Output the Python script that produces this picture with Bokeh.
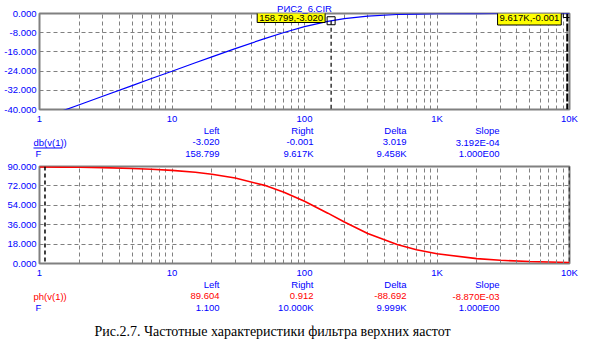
from bokeh.plotting import figure
from bokeh.models import Range1d, FixedTicker, Label
from bokeh.layouts import column, row
from bokeh.core.properties import value
from bokeh.embed import file_html
from bokeh.resources import INLINE

# ---------------- data ----------------
freq = [1, 1.5, 2, 3, 5, 7, 10, 15, 20, 30, 50, 70, 100, 150, 200, 300,
        500, 700, 1000, 2000, 3000, 5000, 10000]
db_v1 = [-44.0, -40.5, -38.0, -34.5, -30.05, -27.1, -24.06, -20.54, -18.07,
         -14.64, -10.45, -7.9, -5.47, -3.27, -2.13, -1.07, -0.42, -0.22,
         -0.11, -0.03, -0.01, -0.004, -0.001]
ph_v1 = [89.64, 89.46, 89.28, 88.92, 88.2, 87.5, 86.4, 84.6, 82.8, 79.3,
         72.5, 66.2, 57.8, 46.7, 38.5, 27.9, 17.6, 12.8, 9.0, 4.5, 3.0,
         1.8, 0.91]

x_major = [1, 10, 100, 1000, 10000]
x_major_labels = ["1", "10", "100", "1K", "10K"]
x_minor = [m * d for d in (1, 10, 100, 1000) for m in range(2, 10)]
db_ticks = [-40, -32, -24, -16, -8, 0]
ph_ticks = [0, 18, 36, 54, 72, 90]

cur_db_f = [158.799, 9617]
cur_db_v = [-3.020, -0.001]
cur_db_txt = ["158.799,-3.020", "9.617K,-0.001"]
cur_ph_f = [1.1, 10000]
cur_ph_v = [89.604, 0.912]

table_cols = ["Left", "Right", "Delta", "Slope"]
db_row = ["-3.020", "-0.001", "3.019", "3.192E-04"]
db_f_row = ["158.799", "9.617K", "9.458K", "1.000E00"]
ph_row = ["89.604", "0.912", "-88.692", "-8.870E-03"]
ph_f_row = ["1.100", "10.000K", "9.999K", "1.000E00"]

title = "РИС2_6.CIR"
caption = "Рис.2.7. Частотные характеристики фильтра верхних яастот"

BLUE = "#0000ff"
RED = "#ff0000"
GRAY = "#808080"
FONT = "Liberation Sans"
FS = "9.5px"
W = 594


def make_fig(height, top, bottom, yr, yticks):
    p = figure(width=W, height=height, x_axis_type="log",
               x_range=Range1d(1, 10000), y_range=Range1d(*yr),
               output_backend="svg", toolbar_location=None,
               min_border_left=39, min_border_right=25,
               min_border_top=top, min_border_bottom=bottom)
    p.background_fill_color = "white"
    p.border_fill_color = "white"
    p.outline_line_color = GRAY
    p.outline_line_width = 2
    p.xaxis.ticker = FixedTicker(ticks=x_major, minor_ticks=x_minor)
    p.xaxis.major_label_overrides = {v: l for v, l in zip(x_major, x_major_labels)}
    p.yaxis.ticker = FixedTicker(ticks=yticks)
    p.yaxis.major_label_overrides = {v: f"{v:.3f}" for v in yticks}
    for ax in (p.xaxis[0], p.yaxis[0]):
        ax.axis_line_color = None
        ax.major_tick_line_color = None
        ax.minor_tick_line_color = None
        ax.major_tick_out = 0
        ax.major_tick_in = 0
        ax.minor_tick_out = 0
        ax.major_label_text_color = BLUE
        ax.major_label_text_font = FONT
        ax.major_label_text_font_size = FS
        ax.major_label_standoff = 3
    for g in (p.xgrid[0], p.ygrid[0]):
        g.grid_line_color = GRAY
        g.grid_line_dash = "4 3"
        g.grid_line_width = 1
    p.xgrid[0].minor_grid_line_color = GRAY
    p.xgrid[0].minor_grid_line_dash = "4 3"
    return p


def text_fig(height):
    t = figure(width=W, height=height, x_range=Range1d(0, W),
               y_range=Range1d(height, 0), output_backend="svg",
               toolbar_location=None, x_axis_location=None,
               y_axis_location=None, min_border=0)
    t.outline_line_color = None
    t.background_fill_color = "white"
    t.border_fill_color = "white"
    t.xgrid.visible = False
    t.ygrid.visible = False
    return t


def put(t, x, y, txt, color, align, font=FONT, size=FS):
    t.text(x=[x], y=[y], text=[txt], text_align=align, text_baseline="middle",
           text_color=color, text_font=value(font), text_font_size=value(size))


def table(t, y0, name, name_color, row1, row1_color, row2):
    xs = [219, 313, 406, 499]
    ys = [y0, y0 + 11.7, y0 + 23]
    for x, s in zip(xs, table_cols):
        put(t, x, ys[0], s, BLUE, "right")
    put(t, 33, ys[1], name, name_color, "left")
    put(t, 35, ys[2], "F", BLUE, "left")
    for x, s in zip(xs, row1):
        put(t, x, ys[1], s, row1_color, "right")
    for x, s in zip(xs, row2):
        put(t, x, ys[2], s, BLUE, "right")


# ---------------- top panel (dB) ----------------
p1 = make_fig(126, 12, 15, (-40, 0), db_ticks)
p1.title.text = title
p1.title.align = "center"
p1.title.text_color = BLUE
p1.title.text_font = FONT
p1.title.text_font_size = FS
p1.title.text_font_style = "normal"
p1.title.standoff = 0
p1.title.offset = -3
p1.line(freq, db_v1, line_color=BLUE, line_width=1.2)
p1.segment(x0=cur_db_f[:1], y0=cur_db_v[:1], x1=cur_db_f[:1], y1=[-40],
           line_color="black", line_dash="4 3", line_width=1.2)
p1.segment(x0=cur_db_f[1:], y0=cur_db_v[1:], x1=cur_db_f[1:], y1=[-40],
           line_color="black", line_dash="8 2", line_width=2)
p1.scatter(cur_db_f, cur_db_v, marker="square", size=8, fill_color=None,
           line_color="black", line_width=1)
for f, s in zip(cur_db_f, cur_db_txt):
    p1.add_layout(Label(x=f, y=92, x_units="data", y_units="screen",
                        x_offset=-6, text=s, text_align="right",
                        text_baseline="middle", text_color="black",
                        text_font=FONT, text_font_size=FS,
                        background_fill_color="#ffff00",
                        border_line_color="black", border_line_width=1,
                        padding=2))

# ---------------- table 1 ----------------
t1 = text_fig(34)
table(t1, 4, "db(v(1))", BLUE, db_row, BLUE, db_f_row)
t1.line(x=[33, 62], y=[21.5, 21.5], line_color=BLUE, line_width=1)

# ---------------- bottom panel (phase) ----------------
p2 = make_fig(120, 6, 15, (0, 90), ph_ticks)
p2.xaxis[0].minor_tick_line_color = GRAY
p2.xaxis[0].minor_tick_in = 3
p2.line(freq, ph_v1, line_color=RED, line_width=1.6)
p2.segment(x0=cur_ph_f, y0=[90, 90], x1=cur_ph_f, y1=[0, 0],
           line_color="black", line_dash="4 3", line_width=1.5)

# ---------------- table 2 + caption ----------------
t2 = text_fig(74)
table(t2, 4, "ph(v(1))", RED, ph_row, RED, ph_f_row)
put(t2, 272, 51, caption, "black", "center", font="Liberation Serif",
    size="14px")

layout = column(p1, row(t1), p2, row(t2), spacing=0)
open("out.html", "w").write(file_html(layout, INLINE))
